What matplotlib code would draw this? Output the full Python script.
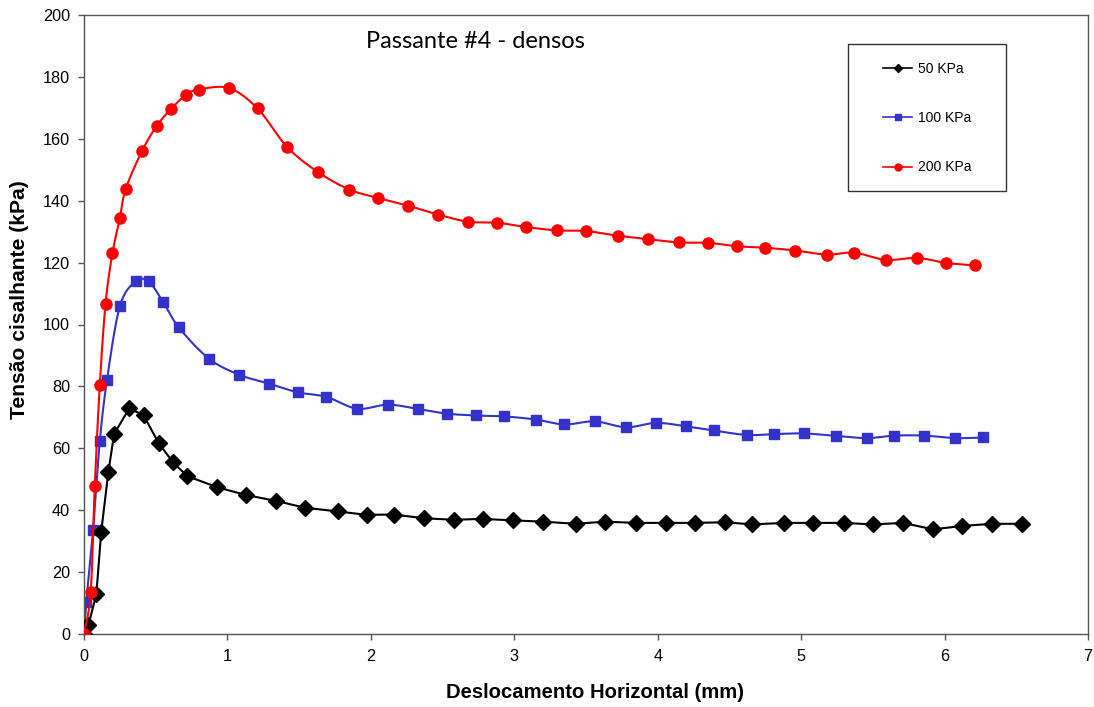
import numpy as np
import matplotlib
matplotlib.use("Agg")
import matplotlib.pyplot as plt
from matplotlib.lines import Line2D
from matplotlib.patches import Rectangle

plt.rcParams['font.family'] = ['Liberation Sans', 'DejaVu Sans']

# ---- data ----
x_50 = [0, 0.03, 0.086, 0.12, 0.17, 0.21, 0.315, 0.415, 0.52, 0.62, 0.72, 0.93, 1.13, 1.34,
        1.54, 1.77, 1.97, 2.16, 2.37, 2.58, 2.78, 2.99, 3.20, 3.43, 3.63, 3.85, 4.06, 4.26,
        4.47, 4.66, 4.88, 5.08, 5.30, 5.50, 5.71, 5.92, 6.12, 6.33, 6.54]
y_50 = [0, 2.8, 12.8, 33, 52.4, 64.6, 72.9, 70.7, 61.7, 55.5, 51.0, 47.4, 44.9, 43.0,
        40.8, 39.6, 38.5, 38.6, 37.4, 36.9, 37.2, 36.7, 36.3, 35.6, 36.3, 35.9, 35.9, 35.9,
        36.1, 35.4, 35.9, 35.9, 35.9, 35.4, 35.9, 33.8, 34.9, 35.6, 35.6]

x_100 = [0, 0.016, 0.063, 0.11, 0.16, 0.25, 0.36, 0.45, 0.55, 0.66, 0.87, 1.08, 1.29, 1.49,
         1.69, 1.905, 2.12, 2.33, 2.53, 2.73, 2.93, 3.15, 3.35, 3.56, 3.78, 3.99, 4.20, 4.39,
         4.62, 4.81, 5.02, 5.24, 5.46, 5.65, 5.86, 6.07, 6.27]
y_100 = [0, 10.5, 33.6, 62.2, 82, 105.9, 113.9, 113.9, 107.4, 99.1, 89.0, 83.8, 80.9, 78.1,
         76.6, 72.8, 74.1, 72.7, 71.2, 70.6, 70.3, 69.3, 67.7, 68.7, 66.8, 68.2, 67.1, 65.8,
         64.3, 64.6, 64.8, 64.0, 63.3, 64.1, 64.1, 63.3, 63.5]

x_200 = [0, 0.047, 0.075, 0.11, 0.15, 0.198, 0.25, 0.29, 0.405, 0.506, 0.606, 0.713, 0.80,
         1.01, 1.21, 1.415, 1.63, 1.85, 2.05, 2.26, 2.47, 2.68, 2.88, 3.08, 3.30, 3.50, 3.72,
         3.93, 4.15, 4.35, 4.55, 4.75, 4.96, 5.18, 5.37, 5.59, 5.81, 6.01, 6.21]
y_200 = [0, 13.7, 47.7, 80.4, 106.6, 123, 134.3, 143.7, 156.1, 164.1, 169.6, 174.3, 175.9,
         176.4, 169.8, 157.4, 149.3, 143.6, 140.9, 138.4, 135.5, 133.2, 132.9, 131.5, 130.4,
         130.2, 128.7, 127.6, 126.5, 126.4, 125.3, 124.8, 123.9, 122.6, 123.2, 120.9, 121.5,
         119.9, 119.1]

labels = ['50 KPa', '100 KPa', '200 KPa']
title = 'Passante #4 - densos'
xlabel = 'Deslocamento Horizontal (mm)'
ylabel = 'Tensão cisalhante (kPa)'


def smooth(x, y, n=20):
    """Catmull-Rom style smoothed line through the points (drawing only)."""
    x = np.asarray(x, float); y = np.asarray(y, float)
    P = np.column_stack([x, y])
    P = np.vstack([P[0], P, P[-1]])
    out = []
    t = np.linspace(0, 1, n, endpoint=False)[:, None]
    for i in range(1, len(P) - 2):
        p0, p1, p2, p3 = P[i - 1], P[i], P[i + 1], P[i + 2]
        c1 = p1 + (p2 - p0) / 6.0
        c2 = p2 - (p3 - p1) / 6.0
        seg = ((1 - t) ** 3) * p1 + 3 * ((1 - t) ** 2) * t * c1 + 3 * (1 - t) * t ** 2 * c2 + t ** 3 * p2
        out.append(seg)
    out.append(P[-2][None, :])
    out = np.vstack(out)
    return out[:, 0], out[:, 1]


W, H = 1094, 707
fig = plt.figure(figsize=(W / 100, H / 100), dpi=100)
ax = fig.add_axes([84 / W, 1 - 634 / H, (1088 - 84) / W, (634 - 15) / H])

c_blk, c_blu, c_red = '#000000', '#3333CC', '#FF0000'

# 50 kPa: straight segments
ax.plot(x_50, y_50, color=c_blk, lw=1.5, marker='D', ms=8.5, mfc=c_blk, mec=c_blk, zorder=3)
# 100 kPa: smoothed
sx, sy = smooth(x_100, y_100)
ax.plot(sx, sy, color=c_blu, lw=1.5, zorder=2)
ax.plot(x_100, y_100, ls='none', marker='s', ms=6.5, mfc=c_blu, mec=c_blu, zorder=2)
# 200 kPa: smoothed
sx, sy = smooth(x_200, y_200)
ax.plot(sx, sy, color=c_red, lw=1.5, zorder=4)
ax.plot(x_200, y_200, ls='none', marker='o', ms=8, mfc=c_red, mec=c_red, zorder=4)

ax.set_xlim(0, 7)
ax.set_ylim(0, 200)
ax.set_xticks(range(0, 8))
ax.set_yticks(range(0, 201, 20))
ax.tick_params(direction='out', length=4, width=1, colors='#555555', labelcolor='black',
               labelsize=11.7)
ax.tick_params(axis='x', pad=6.5)
ax.tick_params(axis='y', pad=6)
for s in ax.spines.values():
    s.set_color('#555555')
    s.set_linewidth(1)

fig.text(595 / W, 1 - 692 / H, xlabel, ha='center', va='center',
         fontsize=14.6, fontweight='bold')
fig.text(20 / W, 1 - 300 / H, ylabel, ha='center', va='center', rotation=90,
         fontsize=15.2, fontweight='bold')

fig.text(475 / W, 1 - 42 / H, title, ha='center', va='center',
         fontsize=17, family=['Lato', 'DejaVu Sans'])

# legend frame
fig.patches.append(Rectangle((848 / W, 1 - 191 / H), (1006 - 848) / W, (191 - 44) / H,
                             transform=fig.transFigure, fill=True, facecolor='white',
                             edgecolor='#333333', lw=1, zorder=5))
handles = [
    Line2D([], [], color=c_blk, lw=1.2, marker='D', ms=4.5, mfc=c_blk, mec=c_blk),
    Line2D([], [], color=c_blu, lw=1.2, marker='s', ms=5, mfc=c_blu, mec=c_blu),
    Line2D([], [], color=c_red, lw=1.2, marker='o', ms=5, mfc=c_red, mec=c_red),
]
leg = fig.legend(handles, labels, loc='center left',
                 bbox_to_anchor=(883 / W, 1 - 118 / H),
                 fontsize=10, frameon=False,
                 borderpad=0, labelspacing=2.55, handlelength=2.1, handletextpad=0.4,
                 borderaxespad=0)
leg.set_zorder(6)

fig.savefig('out.png', dpi=100)
